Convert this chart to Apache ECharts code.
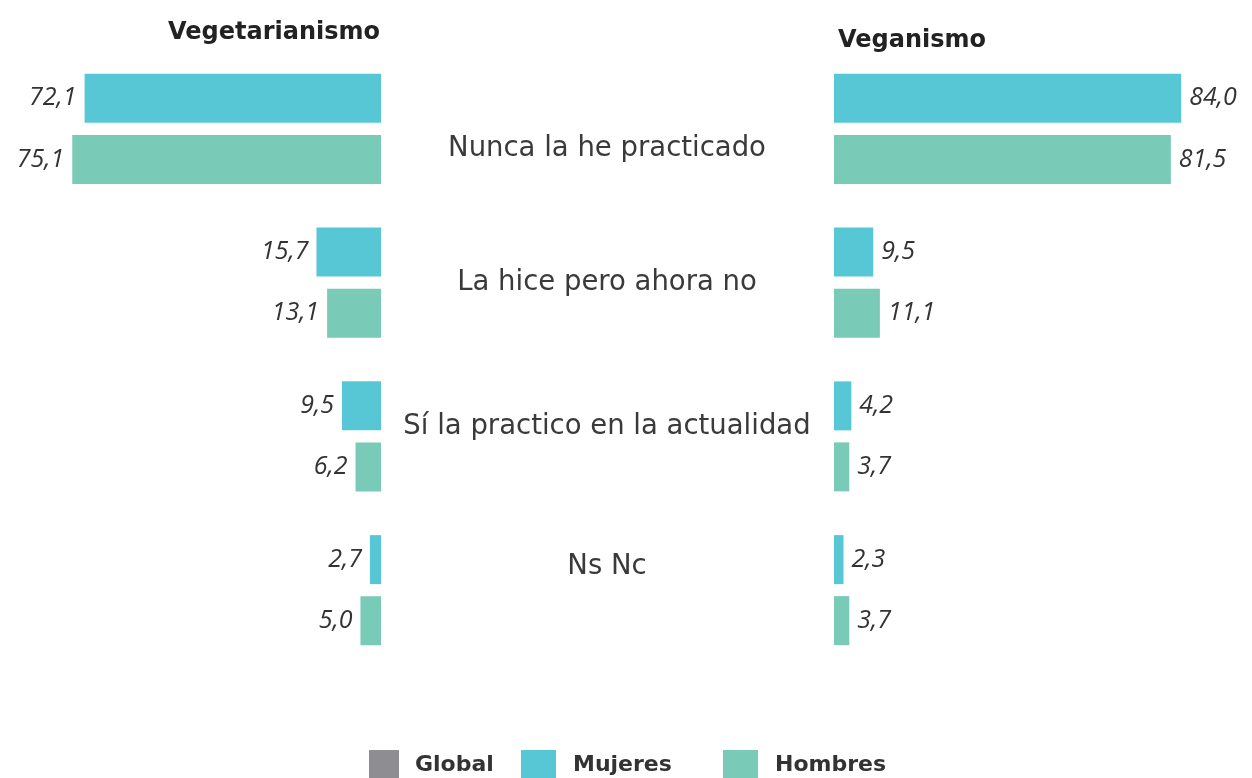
<!DOCTYPE html>
<html>
<head>
<meta charset="utf-8">
<script src="https://cdn.jsdelivr.net/npm/echarts@6/dist/echarts.min.js"></script>
<style>
html,body{margin:0;padding:0;background:#fff;}
#chart{width:1252px;height:778px;}
</style>
</head>
<body>
<div id="chart"></div>
<script>
const categories = ['Nunca la he practicado', 'La hice pero ahora no', 'Sí la practico en la actualidad', 'Ns Nc'];
const vegetarianismoMujeres = [72.1, 15.7, 9.5, 2.7];
const vegetarianismoHombres = [75.1, 13.1, 6.2, 5.0];
const veganismoMujeres = [84.0, 9.5, 4.2, 2.3];
const veganismoHombres = [81.5, 11.1, 3.7, 3.7];
const seriesNames = ['Global', 'Mujeres', 'Hombres'];
const panelTitles = ['Vegetarianismo', 'Veganismo'];

const COL_GLOBAL = '#8e8e92', COL_M = '#57c7d5', COL_H = '#79cab7';
const NUMFONT = '"Open Sans"';
const TXTFONT = '"DejaVu Sans"';
const fmt = p => p.value.toFixed(1).replace('.', ',');
const numLabel = pos => ({
  show: true, position: pos, distance: 8, formatter: fmt,
  fontFamily: NUMFONT, fontStyle: 'italic', fontSize: 25, color: '#333'
});
const labelShift = [
  {padding: [40, 0, 0, 0]},
  {padding: [0, 0, 0, 0]},
  {padding: [0, 0, 20, 0]},
  {padding: [0, 0, 46, 0]}
];
const rich = {};
labelShift.forEach((s, i) => {
  rich['c' + i] = Object.assign({fontFamily: TXTFONT, fontSize: 27.5, color: '#3a3a3a', lineHeight: 34}, s);
});
const legendText = pad => ({fontFamily: TXTFONT, fontWeight: 'bold', fontSize: 22, color: '#333', padding: [0, 0, 0, pad]});
const legendItem = (name, left, w, pad) => ({
  data: [name], left: left, top: 750, padding: 0, itemWidth: w, itemHeight: 30, icon: 'rect',
  textStyle: legendText(pad), selectedMode: false
});

const chart = echarts.init(document.getElementById('chart'));
chart.setOption({
  backgroundColor: '#fff',
  animation: false,
  title: [
    {text: panelTitles[0], right: 872, top: 21, padding: 0, textStyle: {fontFamily: TXTFONT, fontWeight: 'bold', fontSize: 24, color: '#222'}},
    {text: panelTitles[1], left: 838, top: 29, padding: 0, textStyle: {fontFamily: TXTFONT, fontWeight: 'bold', fontSize: 24, color: '#222'}}
  ],
  legend: [
    legendItem(seriesNames[0], 369, 30, 11),
    legendItem(seriesNames[1], 521, 35, 12),
    legendItem(seriesNames[2], 723, 35, 12)
  ],
  grid: [
    {left: 11, width: 370, top: 52, height: 615},
    {left: 834, width: 372, top: 52, height: 615},
    {left: 0, top: 0, width: 1, height: 1, show: false}
  ],
  xAxis: [
    {gridIndex: 0, type: 'value', min: 0, max: 90, inverse: true, show: false},
    {gridIndex: 1, type: 'value', min: 0, max: 90, show: false},
    {gridIndex: 2, type: 'value', show: false}
  ],
  yAxis: [
    {gridIndex: 0, type: 'category', data: categories, inverse: true, position: 'right',
     axisLine: {show: false}, axisTick: {show: false}, splitLine: {show: false},
     axisLabel: {margin: 226, align: 'center', formatter: (v, i) => '{c' + i + '|' + v + '}', rich: rich}},
    {gridIndex: 1, type: 'category', data: categories, inverse: true, show: false},
    {gridIndex: 2, type: 'category', data: [], show: false}
  ],
  series: [
    {name: seriesNames[0], type: 'bar', xAxisIndex: 2, yAxisIndex: 2, data: [], itemStyle: {color: COL_GLOBAL}},
    {name: seriesNames[1], type: 'bar', xAxisIndex: 0, yAxisIndex: 0, data: vegetarianismoMujeres,
     barWidth: 49, barGap: '24.5%', itemStyle: {color: COL_M}, label: numLabel('left')},
    {name: seriesNames[2], type: 'bar', xAxisIndex: 0, yAxisIndex: 0, data: vegetarianismoHombres,
     barWidth: 49, barGap: '24.5%', itemStyle: {color: COL_H}, label: numLabel('left')},
    {name: seriesNames[1], type: 'bar', xAxisIndex: 1, yAxisIndex: 1, data: veganismoMujeres,
     barWidth: 49, barGap: '24.5%', itemStyle: {color: COL_M}, label: numLabel('right')},
    {name: seriesNames[2], type: 'bar', xAxisIndex: 1, yAxisIndex: 1, data: veganismoHombres,
     barWidth: 49, barGap: '24.5%', itemStyle: {color: COL_H}, label: numLabel('right')}
  ]
});
</script>
</body>
</html>
